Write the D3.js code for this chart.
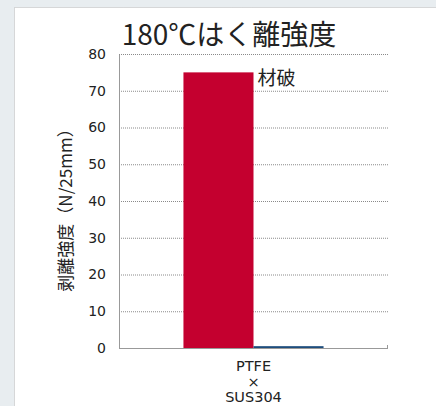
<!DOCTYPE html>
<html>
<head>
<meta charset="utf-8">
<script src="https://cdn.jsdelivr.net/npm/d3@7"></script>
<style>
  body { margin: 0; background: #e8edf0; }
  svg { display: block; font-family: "DejaVu Sans", sans-serif; }
</style>
</head>
<body>
<div id="chart"></div>
<script>
const categories = ['PTFE×SUS304'];
const categoryLines = [['PTFE', '×', 'SUS304']];
const series = ['剥離', '比較'];
const values = [[75, 0.5]];
const yTicks = [0, 10, 20, 30, 40, 50, 60, 70, 80];
const seriesColours = ['#c4002f', '#1d4d7d'];

const width = 436, height = 406;
const margin = { top: 54, right: 48, bottom: 58, left: 119 };
const innerW = width - margin.left - margin.right;
const innerH = height - margin.top - margin.bottom;

const svg = d3.select('#chart').append('svg')
  .attr('width', width)
  .attr('height', height);

// white panel
svg.append('rect')
  .attr('x', 14.5).attr('y', 7.5)
  .attr('width', width).attr('height', height)
  .attr('fill', '#fff')
  .attr('stroke', '#b8b8b8')
  .attr('stroke-dasharray', '1,1');

svg.append('text')
  .attr('x', 229).attr('y', 45)
  .attr('text-anchor', 'middle')
  .attr('font-size', 28)
  .attr('fill', '#222')
  .attr('font-family', '"Noto Sans CJK JP", sans-serif')
  .text('180℃はく離強度');

const chart = svg.append('g')
  .attr('transform', `translate(${margin.left},${margin.top})`);

const y = d3.scaleLinear().domain([0, 80]).range([innerH, 0]);
const x0 = d3.scaleBand().domain(categories).range([0, innerW]).paddingInner(0).paddingOuter(0.46);
const x1 = d3.scaleBand().domain(series).range([0, x0.bandwidth()]);

// gridlines
chart.selectAll('.grid')
  .data(yTicks.filter(d => d > 0))
  .join('line')
  .attr('class', 'grid')
  .attr('x1', 0).attr('x2', innerW)
  .attr('y1', d => y(d) + 0.5).attr('y2', d => y(d) + 0.5)
  .attr('stroke', '#8a8a8a')
  .attr('stroke-width', 1)
  .attr('stroke-dasharray', '1,1');

// y axis
const yAxis = chart.append('g')
  .call(d3.axisLeft(y).tickValues(yTicks).tickSize(0).tickPadding(13));
yAxis.select('.domain').attr('stroke', '#999');
yAxis.selectAll('text')
  .attr('font-size', 14)
  .attr('font-family', '"DejaVu Sans", sans-serif')
  .attr('fill', '#222');

// bars
const groups = chart.selectAll('.cat')
  .data(categories)
  .join('g')
  .attr('class', 'cat')
  .attr('transform', d => `translate(${x0(d)},0)`);

groups.selectAll('rect')
  .data((d, i) => values[i].map((v, j) => ({ key: series[j], value: v })))
  .join('rect')
  .attr('x', d => x1(d.key))
  .attr('y', d => y(d.value))
  .attr('width', x1.bandwidth())
  .attr('height', d => innerH - y(d.value))
  .attr('fill', (d, j) => seriesColours[j]);

// bottom axis line
chart.append('line')
  .attr('x1', 0).attr('x2', innerW)
  .attr('y1', innerH + 0.5).attr('y2', innerH + 0.5)
  .attr('stroke', '#999');
chart.append('line')
  .attr('x1', innerW - 0.5).attr('x2', innerW - 0.5)
  .attr('y1', innerH - 3).attr('y2', innerH + 0.5)
  .attr('stroke', '#999');

// annotation
chart.append('text')
  .attr('x', x0(categories[0]) + x1(series[0]) + x1.bandwidth() + 4)
  .attr('y', y(values[0][0]) + 13)
  .attr('font-size', 19)
  .attr('fill', '#222')
  .attr('font-family', '"Noto Sans CJK JP", sans-serif')
  .text('材破');

// category label
const cx = x0(categories[0]) + x0.bandwidth() / 2;
const catLabel = chart.append('text')
  .attr('x', cx)
  .attr('y', innerH + 23)
  .attr('text-anchor', 'middle')
  .attr('font-size', 14.5)
  .attr('fill', '#222');
catLabel.selectAll('tspan')
  .data(categoryLines[0])
  .join('tspan')
  .attr('x', cx)
  .attr('dy', (d, i) => i === 0 ? 0 : 15.5)
  .text(d => d);

// y label
svg.append('text')
  .attr('transform', 'translate(72,206) rotate(-90)')
  .attr('text-anchor', 'middle')
  .attr('font-size', 17)
  .attr('fill', '#222')
  .attr('font-family', '"Noto Sans CJK JP", sans-serif')
  .text('剥離強度（N/25mm）');
</script>
</body>
</html>
